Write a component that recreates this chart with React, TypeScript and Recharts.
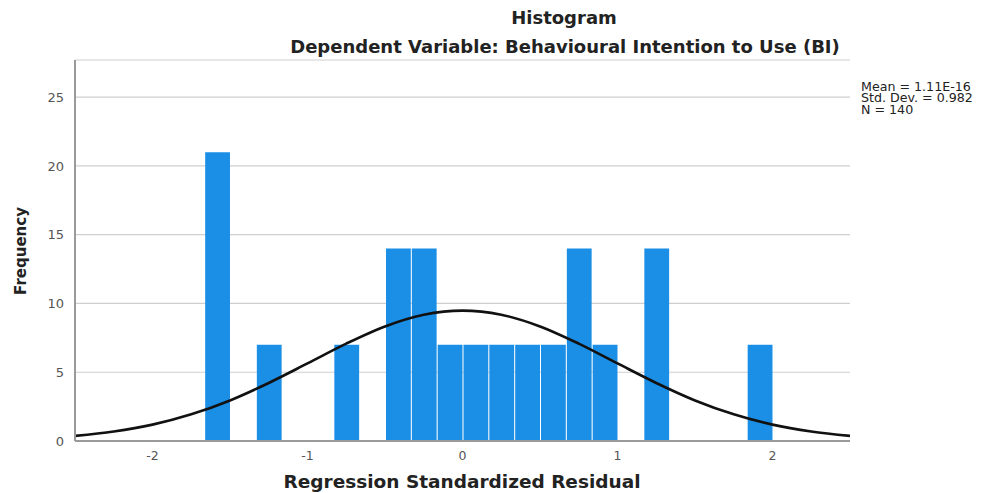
import React from "react";
import { ComposedChart, Bar, Line, XAxis, YAxis, CartesianGrid } from "recharts";

// Histogram bins (centre of each 1/6-wide bin) and their frequencies
const binCenters = [-1.5833, -1.25, -0.75, -0.4167, -0.25, -0.0833, 0.0833, 0.25, 0.4167, 0.5833, 0.75, 0.9167, 1.25, 1.9167];
const binCounts = [21, 7, 7, 14, 14, 7, 7, 7, 7, 7, 14, 7, 14, 7];

// Normal curve
const curveX = [-2.5, -2.25, -2, -1.75, -1.5, -1.25, -1, -0.75, -0.5, -0.25, 0, 0.25, 0.5, 0.75, 1, 1.25, 1.5, 1.75, 2, 2.25, 2.5];
const curveY = [0.37, 0.69, 1.19, 1.94, 2.95, 4.22, 5.64, 7.08, 8.33, 9.18, 9.48, 9.18, 8.33, 7.08, 5.64, 4.22, 2.95, 1.94, 1.19, 0.69, 0.37];

const xTicks = [-2, -1, 0, 1, 2];
const yTicks = [0, 5, 10, 15, 20, 25];
const statsLines = ["Mean = 1.11E-16", "Std. Dev. = 0.982", "N = 140"];

const barRows = binCenters.map((x, i) => ({ x, freq: binCounts[i] }));
const curveRows = curveX.map((x, i) => ({ x, curve: curveY[i] }));

const FONT = "'DejaVu Sans', sans-serif";

export default function App() {
  return (
    <div style={{ position: "absolute", left: 0, top: 0, width: 987, height: 493, background: "#fff", fontFamily: FONT }}>
      <ComposedChart
        width={987}
        height={493}
        data={barRows}
        barCategoryGap={0}
        barGap={0}
        margin={{ top: 60, right: 137, left: 0, bottom: 0 }}
      >
        <CartesianGrid vertical={false} stroke="#cfcfcf" strokeWidth={1.2} />
        <XAxis
          xAxisId="bins"
          dataKey="x"
          type="number"
          domain={[-2.5, 2.5]}
          ticks={xTicks}
          allowDataOverflow
          height={52}
          tickLine={false}
          axisLine={{ stroke: "#9a9a9a", strokeWidth: 2 }}
          tick={{ fill: "#555", fontSize: 12.5, fontFamily: FONT }}
          tickMargin={4}
        />
        <XAxis
          xAxisId="curve"
          dataKey="x"
          type="number"
          domain={[-2.5, 2.5]}
          allowDataOverflow
          hide
        />
        <YAxis
          type="number"
          domain={[0, 27.7]}
          ticks={yTicks}
          width={75}
          tickLine={false}
          axisLine={{ stroke: "#9a9a9a", strokeWidth: 2 }}
          tick={{ fill: "#555", fontSize: 13, fontFamily: FONT }}
          tickMargin={5}
        />
        <Bar xAxisId="bins" dataKey="freq" fill="#1b8ee6" barSize={24.8} isAnimationActive={false} />
        <Line xAxisId="curve" data={curveRows} dataKey="curve" type="monotone" stroke="#111" strokeWidth={2.6} dot={false} isAnimationActive={false} />
        <text x={564} y={24} textAnchor="middle" fontSize={18} fontWeight="bold" fill="#222" fontFamily={FONT}>Histogram</text>
        <text x={565} y={53} textAnchor="middle" fontSize={18} fontWeight="bold" fill="#222" fontFamily={FONT}>Dependent Variable: Behavioural Intention to Use (BI)</text>
        <text x={462} y={488} textAnchor="middle" fontSize={18.5} fontWeight="bold" fill="#222" fontFamily={FONT}>Regression Standardized Residual</text>
        <text x={26} y={251} textAnchor="middle" fontSize={15} fontWeight="bold" fill="#222" fontFamily={FONT} transform="rotate(-90 26 251)">Frequency</text>
        <g transform="translate(861 0) scale(1.1 1)">
          {statsLines.map((s, i) => (
            <text key={s} x={0} y={91 + i * 11.5} fontSize={11.5} fill="#222" fontFamily={FONT}>{s}</text>
          ))}
        </g>
      </ComposedChart>
    </div>
  );
}
